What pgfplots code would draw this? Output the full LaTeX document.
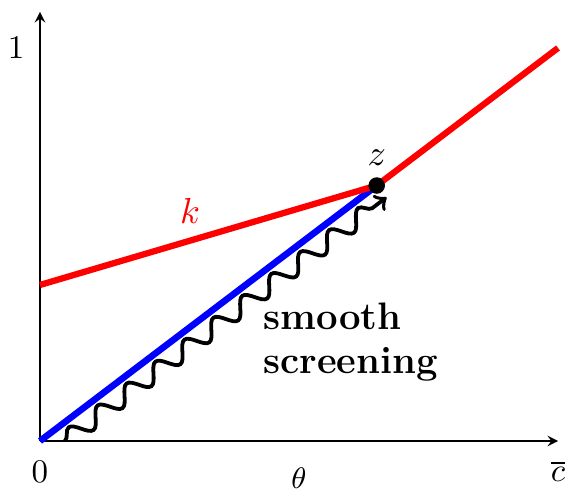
\documentclass[border=0pt]{standalone}
\usepackage{pgfplots}
\pgfplotsset{compat=1.18}
\usetikzlibrary{decorations.pathmorphing}
\begin{document}
\begin{tikzpicture}
\begin{axis}[
  scale only axis,
  width=156.97pt, height=130pt,
  xmin=0, xmax=1, ymin=0, ymax=1.0916,
  axis lines=left,
  axis line style={line width=0.4pt},
  clip=false,
  xtick={0,1}, xticklabels={$0$,$\overline{c}$},
  ytick={1}, yticklabels={$1$},
  major tick length=0pt,
  xticklabel style={yshift=-2.5pt},
  yticklabel style={xshift=-1.2pt},
  xlabel={$\theta$},
  xlabel style={at={(axis description cs:0.5,0)}, anchor=north, yshift=-4.5pt, font=\fontsize{9.5}{11}\selectfont},
]
\coordinate (bl) at (axis cs:-0.0772,-0.1272);
\coordinate (tr) at (axis cs:1.0193,1.1221);
\addplot[blue, line width=2pt] coordinates {(0,0) (0.65,0.65)};
\addplot[red, line width=1.9pt] coordinates {(0,0.397) (0.65,0.65) (1,1)};
\addplot[only marks, mark=*, mark size=2.3pt, black] coordinates {(0.65,0.65)};
\draw[->, line width=1.15pt, decorate, decoration={snake, amplitude=2.6pt, segment length=11pt, post length=4pt}] (axis cs:0.048,0) -- (axis cs:0.669,0.62);
\node[above, font=\fontsize{11}{13}\selectfont, inner sep=1pt] at (axis cs:0.65,0.69) {$z$};
\node[text=red, font=\fontsize{11}{13}\selectfont] at (axis cs:0.29,0.585) {$k$};
\node[anchor=west, align=left, font=\fontsize{11.6}{13.4}\selectfont\bfseries, inner sep=0pt] at (axis cs:0.43,0.252) {smooth\\screening};
\end{axis}
\pgfresetboundingbox
\path[use as bounding box] (bl) rectangle (tr);
\end{tikzpicture}
\end{document}
